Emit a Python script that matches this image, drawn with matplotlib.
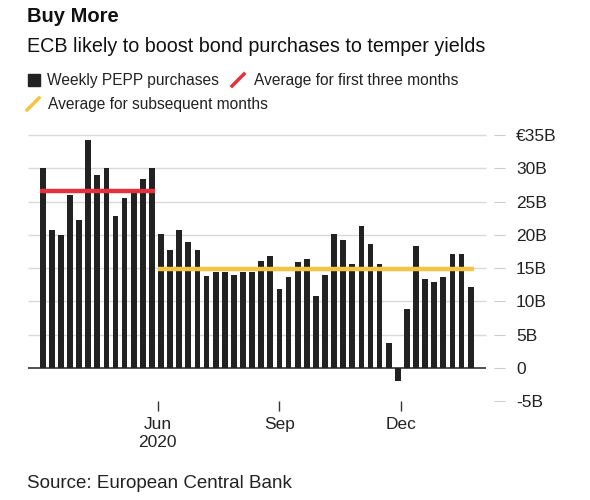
import matplotlib.pyplot as plt
from matplotlib.lines import Line2D
import numpy as np

plt.rcParams['font.family'] = ['Liberation Sans', 'DejaVu Sans']

# weekly PEPP purchases, EUR billions
weekly = [30.1, 20.7, 20.0, 26.0, 22.2, 34.2, 29.0, 30.1, 22.8, 25.6, 26.5, 28.4, 30.1,
          20.2, 17.7, 20.7, 19.0, 17.7, 13.8, 14.4, 14.4, 14.0, 14.4, 14.4, 16.1, 16.8,
          11.8, 13.6, 15.9, 16.4, 10.8, 14.0, 20.2, 19.2, 15.7, 21.3, 18.7, 15.7, 3.7,
          -1.9, 8.8, 18.3, 13.3, 12.9, 13.6, 17.2, 17.2, 12.1]
first_n = 13  # first three months

month_pos = [12.63, 25.98, 39.31]
month_labels = ['Jun\n2020', 'Sep', 'Dec']
y_ticks = [-5, 0, 5, 10, 15, 20, 25, 30, 35]
y_labels = ['-5B', '0', '5B', '10B', '15B', '20B', '25B', '30B', '€35B']

bar_col = '#222222'
red = '#e3323e'
yellow = '#f5c445'

fig = plt.figure(figsize=(5.9, 5), dpi=100)
ax = fig.add_axes([28 / 590, 0.1974, (505 - 28) / 590, 0.7432 - 0.1974])

x = np.arange(len(weekly))
w = 0.63
ax.bar(x, weekly, width=w, color=bar_col, zorder=3)
ax.set_xlim(-1.61, 50.77)
ax.set_ylim(-5, 36)

grid_end = 48.69
for y in y_ticks:
    if y > 0:
        ax.hlines(y, -1.61, grid_end, color='#d9d9d9', lw=1, zorder=1)
ax.hlines(0, -1.61, grid_end, color='#333333', lw=1.2, zorder=2)

avg1 = np.mean(weekly[:first_n])
avg2 = np.mean(weekly[first_n:])
ax.hlines(avg1, x[0] - w / 2, x[first_n - 1] + w / 2, color=red, lw=3.2, zorder=5)
ax.hlines(avg2, x[first_n] - w / 2, x[-1] + w / 2, color=yellow, lw=3.2, zorder=5)

for s in ax.spines.values():
    s.set_visible(False)

ax.yaxis.tick_right()
ax.set_yticks(y_ticks)
ax.set_yticklabels(y_labels)
ax.tick_params(axis='y', direction='in', length=8, color='#cccccc', labelsize=12.5,
               labelcolor='#222222', pad=8)
ax.set_xticks(month_pos)
ax.set_xticklabels(month_labels, linespacing=1.25)
ax.tick_params(axis='x', direction='out', length=7, width=1, color='#333333',
               labelsize=12.5, labelcolor='#222222', pad=4)

# header
fig.text(27 / 590, 1 - 17 / 500, 'Buy More', fontsize=14.5, weight='bold', va='center', color='#111111')
fig.text(27 / 590, 1 - 46 / 500, 'ECB likely to boost bond purchases to temper yields',
         fontsize=14.2, va='center', color='#111111')

# legend
fig.add_artist(Line2D([33.5 / 590], [1 - 80 / 500], marker='s', markersize=9,
                      color=bar_col, linestyle='none'))
fig.text(47 / 590, 1 - 80 / 500, 'Weekly PEPP purchases', fontsize=11.2, va='center', color='#222222')
fig.add_artist(Line2D([232 / 590, 244 / 590], [1 - 86 / 500, 1 - 74 / 500], color=red, lw=2.5))
fig.text(254 / 590, 1 - 80 / 500, 'Average for first three months', fontsize=11.2, va='center', color='#222222')
fig.add_artist(Line2D([27 / 590, 39 / 590], [1 - 110 / 500, 1 - 98 / 500], color=yellow, lw=2.5))
fig.text(48 / 590, 1 - 105 / 500, 'Average for subsequent months', fontsize=11.2, va='center', color='#222222')

fig.text(27 / 590, 1 - 483 / 500, 'Source: European Central Bank', fontsize=13.5, va='center', color='#222222')

fig.savefig('out.png', dpi=100)
